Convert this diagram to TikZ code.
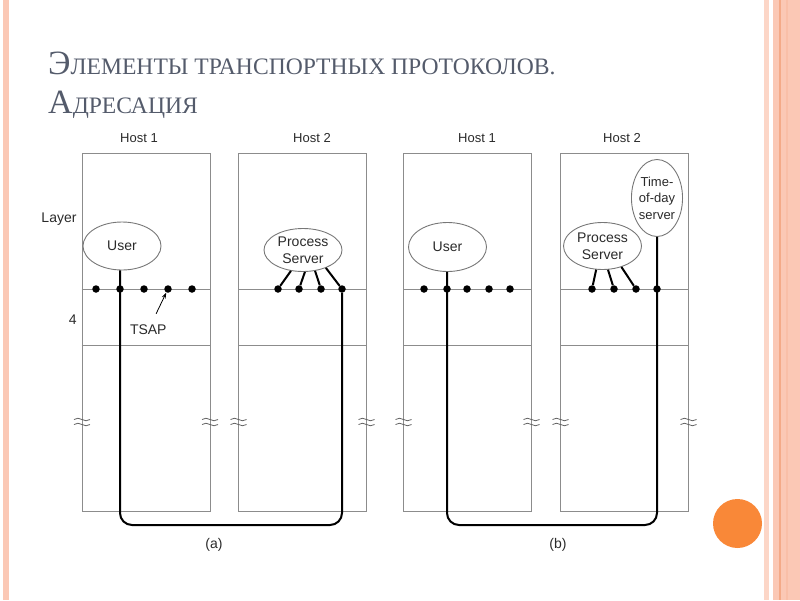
\documentclass[tikz,border=0pt]{standalone}
\usepackage{fontspec}
\setmainfont{Liberation Serif}
\newfontfamily\diagfont{Liberation Sans}
\usetikzlibrary{shapes.geometric,arrows.meta}
\definecolor{boxgray}{HTML}{8C8C8C}
\definecolor{inkgray}{HTML}{2A2A2A}
\definecolor{titlegray}{HTML}{545B6B}
\definecolor{peach}{HTML}{FBC8B5}
\definecolor{peachdark}{HTML}{F4AA88}
\definecolor{dotorange}{HTML}{F98838}

\begin{document}
\begin{tikzpicture}
	[x=1pt,y=-1pt,
	hostbox/.style = {
		draw=boxgray, line width=0.9pt,
		minimum width = 128pt,
		minimum height = 358pt,
		inner sep=0pt
	},
	proc/.style = {
		draw=boxgray!85!black, ellipse, line width=0.9pt,
		inner sep=0pt, align=center, text=inkgray,
		font=\diagfont\fontsize{14}{17}\selectfont
	},
	txt/.style = {
		text=inkgray, inner sep=0pt,
		font=\diagfont\fontsize{14}{17}\selectfont
	},
	hosttxt/.style = {
		text=inkgray, inner sep=0pt,
		font=\diagfont\fontsize{13}{16}\selectfont
	},
	ttl/.style = {
		text=titlegray, inner sep=0pt, anchor=base west
	},
	dot/.style = {
		fill, circle, inner sep=0pt, minimum size=7.5pt
	},
	wire/.style = {
		line width=2pt, rounded corners=12pt
	},
	sepline/.style = {
		draw=boxgray, line width=0.9pt
	},
	brk/.style = {
		draw=boxgray!70!black, line width=0.8pt
	},
	ptr/.style = {
		line width=0.8pt, -{Stealth[length=6pt,width=4pt]}
	}]
	
	\useasboundingbox (0,0) rectangle (800,600);
	
	%Slide frame
	\fill[peach] (3,0) rectangle (9,600);
	\fill[peach!75] (764,0) rectangle (769,600);
	\fill[peach] (773,0) rectangle (800,600);
	\fill[peachdark] (778.5,0) rectangle (781,600);
	\fill[peach!70!peachdark] (786,0) rectangle (787.5,600);
	\fill[dotorange] (737.5,523.5) circle (24.5);
	
	%Title
	\node[ttl] at (48,74) (t1) {\fontsize{34}{34}\selectfont Э\fontsize{23.6}{23.6}\selectfont ЛЕМЕНТЫ ТРАНСПОРТНЫХ ПРОТОКОЛОВ.};
	\node[ttl] at (48,113) (t2) {\fontsize{34}{34}\selectfont А\fontsize{23.6}{23.6}\selectfont ДРЕСАЦИЯ};
	
	%Draw boxes
	\node[hostbox] at (146,332) (hA1) {};
	\node[hostbox] at (302.5,332) (hA2) {};
	\node[hostbox] at (467.5,332) (hB1) {};
	\node[hostbox] at (624.5,332) (hB2) {};
	
	\node[hosttxt] at (139,138) (nA1) {Host 1};
	\node[hosttxt] at (312,138) (nA2) {Host 2};
	\node[hosttxt] at (477,138) (nB1) {Host 1};
	\node[hosttxt] at (622,138) (nB2) {Host 2};
	
	\coordinate (lay) at (0,289);
	\coordinate (low) at (0,345);
	\coordinate (bot) at (0,525);
	
	%Draw layer lines
	\draw[sepline] (hA1.west |- lay) -- (hA1.east |- lay);
	\draw[sepline] (hA2.west |- lay) -- (hA2.east |- lay);
	\draw[sepline] (hB1.west |- lay) -- (hB1.east |- lay);
	\draw[sepline] (hB2.west |- lay) -- (hB2.east |- lay);
	
	\draw[sepline] (hA1.west |- low) -- (hA1.east |- low);
	\draw[sepline] (hA2.west |- low) -- (hA2.east |- low);
	\draw[sepline] (hB1.west |- low) -- (hB1.east |- low);
	\draw[sepline] (hB2.west |- low) -- (hB2.east |- low);
	
	%Breaks
	\foreach \x in {82,210,238.5,366.5,403.5,531.5,560.5,688.5}{
		\draw[brk] (\x-8,419.5) .. controls (\x-3,415) and (\x+3,424) .. (\x+8,419.5);
		\draw[brk] (\x-8,424.5) .. controls (\x-3,420) and (\x+3,429) .. (\x+8,424.5);
	}
	
	%Draw nodes
	\node[dot] at (96,289) (a1) {};
	\node[dot] at (120,289) (a2) {};
	\node[dot] at (144,289) (a3) {};
	\node[dot] at (168,289) (a4) {};
	\node[dot] at (192,289) (a5) {};
	\node[dot] at (278,289) (a6) {};
	\node[dot] at (299,289) (a7) {};
	\node[dot] at (321,289) (a8) {};
	\node[dot] at (342,289) (a9) {};
	
	\node[dot] at (424,289) (b1) {};
	\node[dot] at (447,289) (b2) {};
	\node[dot] at (467,289) (b3) {};
	\node[dot] at (489,289) (b4) {};
	\node[dot] at (510,289) (b5) {};
	\node[dot] at (592,289) (b6) {};
	\node[dot] at (614,289) (b7) {};
	\node[dot] at (636,289) (b8) {};
	\node[dot] at (657,289) (b9) {};
	
	\node[proc, minimum width=78pt, minimum height=48pt] at (122,246) (userA) {User};
	\node[proc, minimum width=78pt, minimum height=43pt] at (303,250) (srvA) {Process\\Server};
	\node[proc, minimum width=78pt, minimum height=49pt] at (447.5,247) (userB) {User};
	\node[proc, minimum width=78pt, minimum height=47pt] at (602.5,246) (srvB) {Process\\Server};
	\node[proc, minimum width=50pt, minimum height=77pt,
		font=\diagfont\fontsize{13}{16.5}\selectfont] at (657,198) (todB) {Time-\\of-day\\server};
	
	\node[txt] at (59,219) (layer) {Layer};
	\node[txt] at (72.7,319.5) (four) {4};
	\node[txt] at (148.3,330) (tsap) {TSAP};
	\node[txt] at (214,545) (capA) {(a)};
	\node[txt] at (558,545) (capB) {(b)};
	
	%Draw wires
	\draw[wire] (userA.south -| a2) -- (a2 |- bot) -- (a9 |- bot) -- (a9);
	\draw[wire] (srvA.240) -- (a6);
	\draw[wire] (srvA.275) -- (a7);
	\draw[wire] (srvA.300) -- (a8);
	\draw[wire] (srvA.322) -- (a9);
	
	\draw[wire] (userB.south -| b2) -- (b2 |- bot) -- (b9 |- bot) -- (todB.south);
	\draw[wire] (srvB.255) -- (b6);
	\draw[wire] (srvB.283) -- (b7);
	\draw[wire] (srvB.312) -- (b8);
	
	\draw[ptr, shorten <=18pt] (tsap.center) -- (a4);
	
\end{tikzpicture}
\end{document}
